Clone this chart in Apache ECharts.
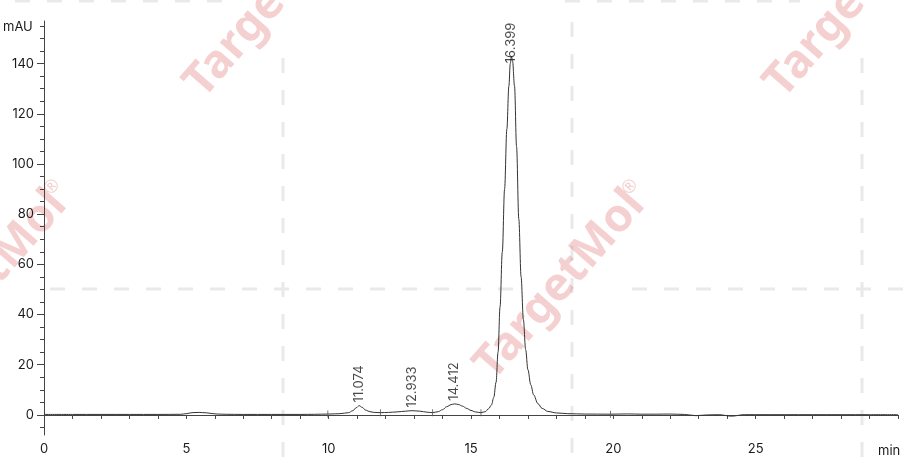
<!DOCTYPE html>
<html>
<head>
<meta charset="utf-8">
<title>Chromatogram</title>
<script src="https://cdn.jsdelivr.net/npm/echarts@6.0.0/dist/echarts.min.js"></script>
<style>
    html, body { margin: 0; padding: 0; background: #fff; }
    #chart { width: 908px; height: 464px; }
</style>
</head>
<body>
<div id="chart"></div>
<script>
// retention time (min) and detector signal (mAU)
const times = [0, 1, 2, 3, 4, 4.8, 5.0, 5.2, 5.45, 5.7, 5.9, 6.1, 6.4, 7, 8, 9, 9.5, 10, 10.4, 10.7, 10.85, 10.97, 11.07, 11.18, 11.3, 11.45, 11.6, 11.82,
    12.1, 12.4, 12.7, 12.93, 13.2, 13.45, 13.65, 13.85, 14.0, 14.15, 14.3, 14.42, 14.55, 14.7, 14.85, 15.0, 15.15, 15.35, 15.5, 15.62, 15.72, 15.8,
    15.88, 15.95, 16.02, 16.1, 16.18, 16.26, 16.33, 16.38, 16.42, 16.46, 16.53, 16.6, 16.68, 16.76, 16.84, 16.92, 17.0, 17.1, 17.2, 17.35, 17.5,
    17.7, 18.0, 18.4, 19, 19.9, 20.5, 21, 21.5, 22, 22.5, 22.9, 23.3, 23.7, 24.15, 24.6, 25, 26, 27, 28, 29, 30];
const signal = [0.2, 0.2, 0.2, 0.2, 0.2, 0.25, 0.5, 0.9, 1.0, 0.85, 0.55, 0.35, 0.25, 0.2, 0.2, 0.2, 0.25, 0.35, 0.5, 0.9, 1.7, 2.9, 3.7, 3.0, 1.9, 1.3, 1.0, 0.9,
    1.0, 1.2, 1.5, 1.7, 1.5, 1.1, 0.9, 1.3, 2.1, 3.3, 4.1, 4.4, 4.2, 3.5, 2.6, 1.8, 1.2, 0.9, 1.3, 2.5, 4, 7,
    13, 25, 43, 65, 90, 114, 131, 140, 143, 141, 131, 107, 78, 55, 38, 26, 18, 12, 8, 4.5, 2.6,
    1.4, 0.8, 0.5, 0.35, 0.3, 0.4, 0.3, 0.3, 0.35, 0.2, -0.3, 0, 0.1, -0.5, 0.1, 0.1, 0.1, 0.1, 0.1, 0.1, 0.1];

// labelled peaks
const peakTimes = [11.074, 12.933, 14.412, 16.399];
const peakHeights = [3.8, 1.8, 4.5, 139];

// integration marks on the baseline
const markTimes = [9.97, 11.82, 13.65, 15.35, 19.9];
const markValues = [0.35, 0.9, 0.9, 0.9, 0.3];

// axis ticks
const yLabelTicks = [0, 20, 40, 60, 80, 100, 120, 140];
const yMinorTicks = [-5, 5, 10, 15, 25, 30, 35, 45, 50, 55, 65, 70, 75, 85, 90, 95, 105, 110, 115, 125, 130, 135, 145, 150, 155];

const FONT = 'Inter';
const TXT = '#1a1a1a';
const AXIS = '#444';
const MARK = 'rgba(222,100,100,0.3)';

/*
* watermark: rotated logo text and dashed tile borders
*/
function watermark () {
    const items = [];
    const rot = 49 * Math.PI / 180;
    [[270, 3], [850, 3], [-18, 285], [560, 285]].forEach(function (c) {
        items.push({
            type: 'text', x: c[0], y: c[1], rotation: rot, z: -10, silent: true,
            style: { text: 'TargetMol', fontSize: 46, fontWeight: 'bold', fontFamily: 'Noto Sans',
                fill: MARK, textAlign: 'center', textVerticalAlign: 'middle' }
        });
        items.push({
            type: 'text', x: c[0] + 70, y: c[1] - 98, rotation: rot, z: -10, silent: true,
            style: { text: '®', fontSize: 18, fontFamily: 'Noto Sans',
                fill: MARK, textAlign: 'center', textVerticalAlign: 'middle' }
        });
    });
    const dashed = { stroke: '#e9e9e9', lineWidth: 3, lineDash: [15, 17] };
    [[283, 58, 283, 464], [572, 22, 572, 464], [862, 58, 862, 464],
     [50, 289, 515, 289], [632, 289, 908, 289], [15, 1, 222, 1], [565, 1, 800, 1]].forEach(function (l) {
        items.push({ type: 'line', z: -11, silent: true, shape: { x1: l[0], y1: l[1], x2: l[2], y2: l[3] }, style: dashed });
    });
    // axis captions
    items.push({ type: 'text', x: 3, y: 27, style: { text: 'mAU', fontSize: 13, fontFamily: FONT, fill: TXT, textVerticalAlign: 'middle' } });
    items.push({ type: 'text', x: 878, y: 451, style: { text: 'min', fontSize: 13, fontFamily: FONT, fill: TXT, textVerticalAlign: 'middle' } });
    return items;
}

const chart = echarts.init(document.getElementById('chart'));
chart.setOption({
    animation: false,
    backgroundColor: '#fff',
    graphic: watermark(),
    grid: { left: 44, right: 10, top: 21, bottom: 29, containLabel: false, outerBoundsMode: 'none' },
    xAxis: {
        type: 'value', min: 0, max: 30, interval: 5,
        axisLine: { show: true, lineStyle: { color: AXIS, width: 1 } },
        axisTick: { show: true, length: 4, lineStyle: { color: AXIS } },
        minorTick: { show: true, splitNumber: 5, length: 4, lineStyle: { color: AXIS } },
        splitLine: { show: false },
        axisLabel: { color: TXT, fontSize: 13, fontFamily: FONT, margin: 8,
            formatter: function (v) { return v === 30 ? '' : v; } }
    },
    yAxis: [{
        type: 'value', min: -8, max: 157, position: 'left',
        axisLine: { show: true, lineStyle: { color: AXIS, width: 1 } },
        axisTick: { show: true, length: 7, customValues: yLabelTicks, lineStyle: { color: AXIS } },
        splitLine: { show: false },
        axisLabel: { color: TXT, fontSize: 13, fontFamily: FONT, margin: 10, customValues: yLabelTicks }
    }, {
        type: 'value', min: -8, max: 157, position: 'left', offset: 0,
        axisLine: { show: false },
        axisTick: { show: true, length: 4, customValues: yMinorTicks, lineStyle: { color: AXIS } },
        splitLine: { show: false },
        axisLabel: { show: false }
    }],
    series: [{
        type: 'line',
        data: times.map(function (t, i) { return [t, signal[i]]; }),
        showSymbol: false,
        smooth: 0.35,
        smoothMonotone: 'x',
        lineStyle: { color: '#333', width: 1 },
        z: 3
    }, {
        type: 'scatter',
        data: markTimes.map(function (t, i) { return [t, markValues[i]]; }),
        symbol: 'rect',
        symbolSize: [1, 7],
        itemStyle: { color: '#555' },
        z: 4
    }, {
        type: 'scatter',
        data: peakTimes.map(function (t, i) { return [t, peakHeights[i]]; }),
        symbolSize: 0,
        label: {
            show: true, position: 'top', distance: 3, rotate: 90, align: 'left', verticalAlign: 'middle',
            color: TXT, fontSize: 13, fontFamily: FONT,
            formatter: function (p) { return p.value[0].toFixed(3); }
        },
        z: 5
    }]
});
</script>
</body>
</html>
